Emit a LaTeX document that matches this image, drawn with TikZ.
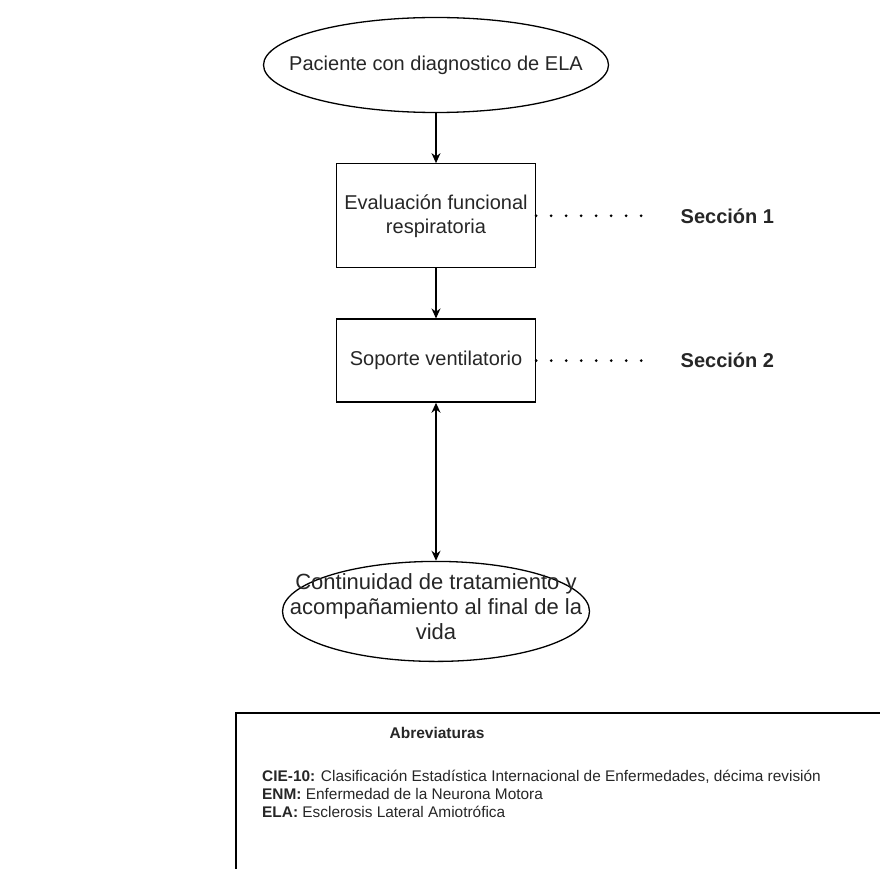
\documentclass[tikz,border=0pt]{standalone}
\usepackage{fontspec}
\setmainfont{Liberation Sans}
\usetikzlibrary{positioning,shapes.geometric,arrows.meta}

\begin{document}
\begin{tikzpicture}[x=1pt,y=-1pt,
      every node/.style = {font=\fontsize{20}{24}\selectfont, text=black!85},
      terminal/.style = {ellipse, draw, line width=1.3pt, inner sep=0pt},
      process/.style = {rectangle, draw, line width=1.3pt, minimum width=199pt, align=center},
      flow/.style = {line width=1.3pt, -{Stealth[length=10pt,width=9pt]}},
      guide/.style = {line width=3pt, dash pattern=on 0pt off 15pt, line cap=round},
      seclabel/.style = {font=\fontsize{20}{24}\selectfont\bfseries}
]
   \useasboundingbox (0,0) rectangle (880,869);

   \node[terminal, minimum width=345pt, minimum height=95pt,
      label={center:Paciente con diagnostico de ELA}] (pac) at (436,65) {};
   \node[process, below=50pt of pac, minimum height=104pt] (eval)
      {Evaluación funcional\\respiratoria};
   \node[process, below=50pt of eval, minimum height=83pt] (sop)
      {Soporte ventilatorio};
   \node[terminal, below=158pt of sop, minimum width=307pt, minimum height=100pt,
      label={[align=center, yshift=5pt, font=\fontsize{22}{25}\selectfont]center:Continuidad de tratamiento y\\acompañamiento al final de la\\vida}] (cont) {};

   \node[seclabel, right=141pt of eval] (sec1) {Sección 1};
   \node[seclabel, right=141pt of sop] (sec2) {Sección 2};
   \coordinate[right=118pt of eval] (dot1);
   \coordinate[right=118pt of sop] (dot2);

   \draw[flow] (pac) -- (eval);
   \draw[flow] (eval) -- (sop);
   \draw[flow, {Stealth[length=10pt,width=9pt]}-{Stealth[length=10pt,width=9pt]}] (sop) -- (cont);
   \draw[guide] (eval.east) -- (dot1);
   \draw[guide] (sop.east) -- (dot2);

   % abreviaturas
   \draw[line width=1.3pt] (880,713) -- (236,713) -- (236,869);
   \node[font=\fontsize{15.5}{18}\selectfont\bfseries] (abr) at (437,733) {Abreviaturas};
   \node[anchor=north west, align=left, inner sep=0pt, font=\fontsize{15.4}{18}\selectfont] (lst) at (262,770)
      {\textbf{CIE-10:} Clasificación Estadística Internacional de Enfermedades, décima revisión\\
       \textbf{ENM:} Enfermedad de la Neurona Motora\\
       \textbf{ELA:} Esclerosis Lateral Amiotrófica};
\end{tikzpicture}
\end{document}
